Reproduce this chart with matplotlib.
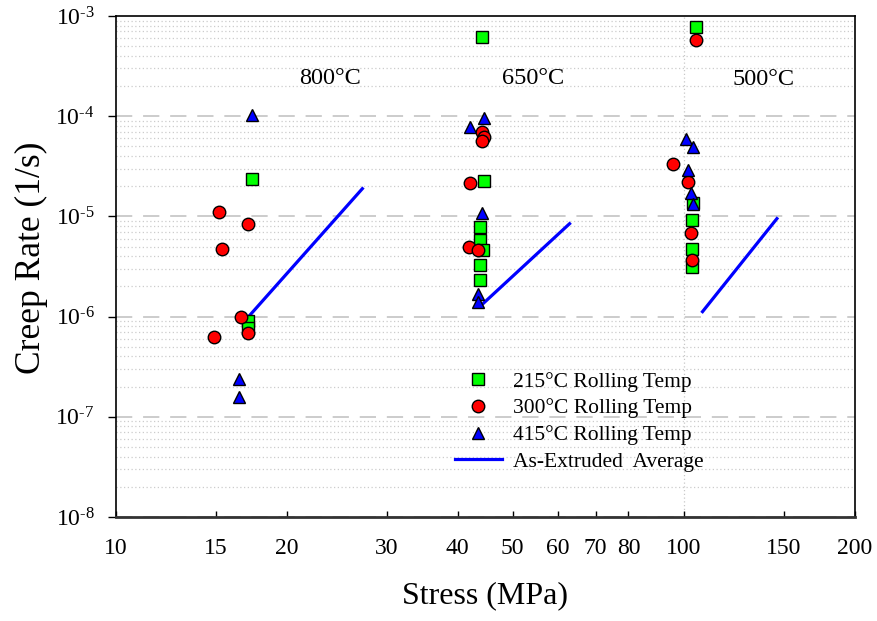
import matplotlib
matplotlib.use('Agg')
import matplotlib.pyplot as plt
from matplotlib.ticker import FixedLocator, FixedFormatter, NullLocator

plt.rcParams['font.family'] = ['Liberation Serif', 'DejaVu Serif']
plt.rcParams['mathtext.fontset'] = 'custom'
plt.rcParams['mathtext.rm'] = 'Liberation Serif'
plt.rcParams['mathtext.it'] = 'Liberation Serif:italic'

# 215C rolling temp (squares)
r215_stress = [17.4, 17.1, 17.1, 44.2, 44.6, 43.9, 43.9, 44.4, 43.9, 43.9, 105, 103.8, 103.4, 103.4, 103.4]
r215_rate = [2.34e-5, 9.1e-7, 7.7e-7, 6.1e-4, 2.25e-5, 7.8e-6, 5.8e-6, 4.6e-6, 3.3e-6, 2.3e-6,
             7.8e-4, 1.37e-5, 9.3e-6, 4.7e-6, 3.1e-6]

# 300C rolling temp (circles)
r300_stress = [15.2, 17.1, 15.4, 16.6, 17.1, 14.9, 44.2, 44.6, 44.1, 42.1, 41.9, 43.5,
               105, 95.7, 102, 103, 103.4]
r300_rate = [1.1e-5, 8.3e-6, 4.7e-6, 9.8e-7, 6.9e-7, 6.2e-7, 7.0e-5, 6.2e-5, 5.7e-5, 2.17e-5,
             4.9e-6, 4.6e-6, 5.8e-4, 3.3e-5, 2.2e-5, 6.9e-6, 3.7e-6]

# 415C rolling temp (triangles)
r415_stress = [17.4, 16.5, 16.5, 44.5, 42.1, 44.2, 43.5, 43.4, 101, 104, 102, 103, 104]
r415_rate = [1.02e-4, 2.4e-7, 1.56e-7, 9.6e-5, 7.8e-5, 1.08e-5, 1.69e-6, 1.39e-6,
             5.98e-5, 4.9e-5, 2.9e-5, 1.72e-5, 1.34e-5]

# as-extruded average lines (800, 650, 500 C)
ext800_stress = [17.1, 27.2]
ext800_rate = [9.8e-7, 1.89e-5]
ext650_stress = [44.0, 63.0]
ext650_rate = [1.29e-6, 8.45e-6]
ext500_stress = [108, 146]
ext500_rate = [1.12e-6, 9.5e-6]

xticks = [10, 15, 20, 30, 40, 50, 60, 70, 80, 100, 150, 200]
yticks = [1e-8, 1e-7, 1e-6, 1e-5, 1e-4, 1e-3]
ytick_labels = [r'$10^{\text{-8}}$', r'$10^{\text{-7}}$', r'$10^{\text{-6}}$',
                r'$10^{\text{-5}}$', r'$10^{\text{-4}}$', r'$10^{\text{-3}}$']

fig = plt.figure(figsize=(8.77, 6.21), dpi=100)
ax = fig.add_axes([0.1317, 0.1675, 0.8427, 0.8068])
ax.set_xscale('log')
ax.set_yscale('log')
ax.set_xlim(10, 200)
ax.set_ylim(1e-8, 1e-3)

# grid: dashed grey at decades, dotted at minor, one dotted vertical at 100
for d in [-8, -7, -6, -5, -4]:
    ax.axhline(10.0 ** d, color='#c8c8c8', lw=1.3, ls=(0, (9, 6)), zorder=0)
    for m in range(2, 10):
        ax.axhline(m * 10.0 ** d, color='#cccccc', lw=0.9, ls=(0, (1, 2)), zorder=0)
ax.axvline(100, color='#c8c8c8', lw=0.9, ls=(0, (1, 2)), zorder=0)

ax.plot(ext800_stress, ext800_rate, color='#0000ff', lw=2.3, label='As-Extruded  Average', zorder=2)
ax.plot(ext650_stress, ext650_rate, color='#0000ff', lw=2.3, zorder=2)
ax.plot(ext500_stress, ext500_rate, color='#0000ff', lw=2.3, zorder=2)

ax.plot(r215_stress, r215_rate, 's', ms=8, mfc='#00ff00', mec='black', mew=1.0,
        label='215°C Rolling Temp', zorder=3)
ax.plot(r300_stress, r300_rate, 'o', ms=9, mfc='#ff0000', mec='black', mew=1.0,
        label='300°C Rolling Temp', zorder=4)
ax.plot(r415_stress, r415_rate, '^', ms=9, mfc='#0000ff', mec='black', mew=1.0,
        label='415°C Rolling Temp', zorder=5)

ax.text(23.9, 2.4e-4, '800°C', fontsize=17.5, ha='center', va='center')
ax.text(54.3, 2.4e-4, '650°C', fontsize=17.5, ha='center', va='center')
ax.text(138, 2.3e-4, '500°C', fontsize=17.5, ha='center', va='center')

ax.xaxis.set_major_locator(FixedLocator(xticks))
ax.xaxis.set_major_formatter(FixedFormatter([str(t) for t in xticks]))
ax.xaxis.set_minor_locator(NullLocator())
ax.yaxis.set_major_locator(FixedLocator(yticks))
ax.yaxis.set_major_formatter(FixedFormatter(ytick_labels))
ax.yaxis.set_minor_locator(NullLocator())
ax.tick_params(axis='x', direction='in', length=4, width=1, pad=15, labelsize=17)
ax.tick_params(axis='y', direction='out', length=6, width=1, pad=9, labelsize=17)

for s in ax.spines.values():
    s.set_linewidth(1.2)
ax.spines['bottom'].set_linewidth(2)
ax.spines['bottom'].set_color('#333333')

ax.set_xlabel('Stress (MPa)', fontsize=23, labelpad=16)
ax.set_ylabel('Creep Rate (1/s)', fontsize=25.5)
ax.yaxis.set_label_coords(-0.092, 0.517)

h, l = ax.get_legend_handles_labels()
order = [1, 2, 3, 0]
ax.legend([h[i] for i in order], [l[i] for i in order], loc='upper left',
          bbox_to_anchor=(0.459, 0.29), frameon=False, fontsize=15.5,
          borderpad=0, borderaxespad=0, handlelength=2.2, handletextpad=0.5,
          labelspacing=0.31)

fig.savefig('out.png', dpi=100)
